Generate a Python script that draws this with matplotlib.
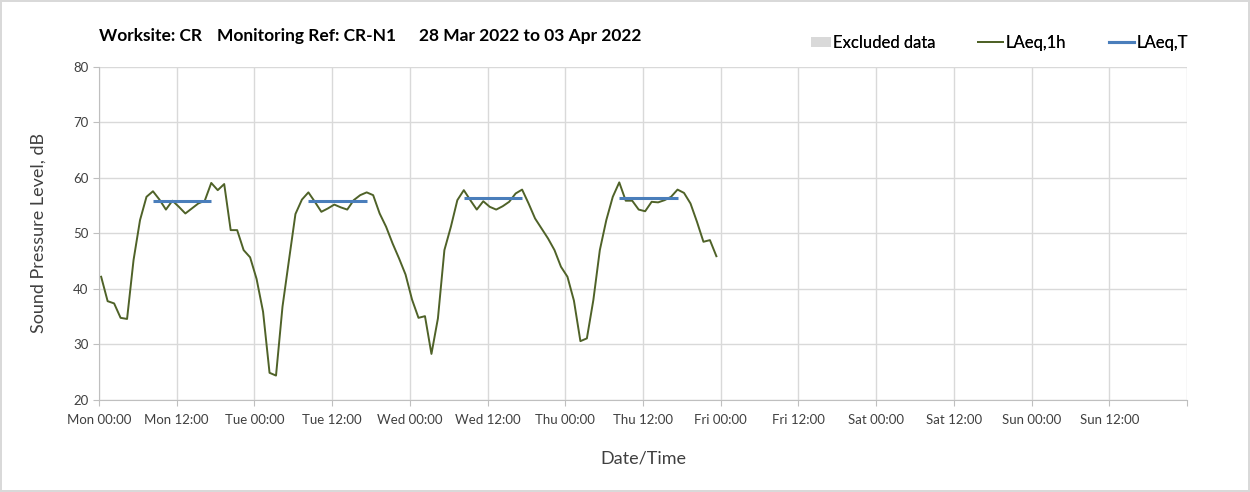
import pandas as pd
import matplotlib.pyplot as plt
import matplotlib.dates as mdates
from matplotlib.patches import Patch, Rectangle
from matplotlib.lines import Line2D
from matplotlib.legend_handler import HandlerPatch

# Hourly LAeq,1h readings, Mon 28 Mar 2022 to Thu 31 Mar 2022
times = pd.date_range('2022-03-28 00:20', periods=96, freq='h')
laeq_1h = [
    42.2, 37.8, 37.4, 34.8, 34.6, 45.2, 52.4, 56.6, 57.6, 56.1, 54.3, 55.9,
    54.8, 53.6, 54.5, 55.4, 55.9, 59.1, 57.8, 58.9, 50.6, 50.6, 47.0, 45.7,
    41.8, 35.9, 24.9, 24.4, 36.8, 45.2, 53.5, 56.1, 57.4, 55.7, 53.9, 54.5,
    55.2, 54.7, 54.3, 56.0, 56.9, 57.4, 56.9, 53.6, 51.2, 48.2, 45.5, 42.6,
    38.1, 34.8, 35.1, 28.3, 34.7, 47.0, 51.2, 56.0, 57.8, 56.0, 54.3, 55.8,
    54.8, 54.3, 54.9, 55.7, 57.2, 57.9, 55.4, 52.7, 50.9, 49.1, 47.0, 44.0,
    42.2, 37.9, 30.6, 31.1, 38.0, 47.0, 52.4, 56.6, 59.2, 55.9, 55.9, 54.3,
    54.0, 55.7, 55.6, 56.0, 56.6, 57.9, 57.3, 55.4, 52.1, 48.5, 48.8, 45.9,
]

# Daytime LAeq,T periods
laeq_t_start = pd.to_datetime(['2022-03-28 08:20', '2022-03-29 08:20',
                               '2022-03-30 08:20', '2022-03-31 08:20'])
laeq_t_end = pd.to_datetime(['2022-03-28 17:20', '2022-03-29 17:20',
                             '2022-03-30 17:20', '2022-03-31 17:20'])
laeq_t = [55.9, 55.8, 56.3, 56.4]

green = '#4f6228'
blue = '#4a7ebb'
grid_col = '#d9d9d9'
text_col = '#404040'
font = 'Lato'


def small_square(legend, orig_handle, xdescent, ydescent, width, height, fontsize):
    # excel style square marker for the area series
    return Rectangle((width - 0.8 * width - xdescent, -ydescent + 0.1 * height),
                     0.8 * width, 0.8 * height)


fig = plt.figure(figsize=(12.5, 4.92), dpi=100)
fig.patch.set_edgecolor('#d9d9d9')
fig.patch.set_linewidth(1.5)
ax = fig.add_axes([0.0792, 0.187, 0.8704, 0.677])

ax.plot(times, laeq_1h, color=green, lw=1.4)
ax.hlines(laeq_t, laeq_t_start, laeq_t_end, color=blue, lw=2.2)

ax.set_ylim(20, 80)
ax.set_xlim(pd.Timestamp('2022-03-28'), pd.Timestamp('2022-04-04'))
ax.set_yticks(range(20, 81, 10))
ax.xaxis.set_major_locator(mdates.HourLocator(byhour=[0, 12]))
ticks = ax.get_xticks()
ax.set_xticks(ticks)
ax.set_xticklabels([mdates.num2date(t).strftime('%a %H:%M') if i < len(ticks) - 1 else ''
                    for i, t in enumerate(ticks)])

ax.grid(True, color=grid_col, lw=1)
ax.set_axisbelow(True)
for side in ['top', 'right']:
    ax.spines[side].set_visible(False)
for side in ['left', 'bottom']:
    ax.spines[side].set_color('#bfbfbf')
ax.tick_params(axis='both', colors='#bfbfbf', length=4, labelcolor=text_col, labelsize=9.5)
ax.tick_params(axis='x', pad=6)
for lbl in ax.get_xticklabels() + ax.get_yticklabels():
    lbl.set_fontfamily(font)

ax.set_ylabel('Sound Pressure Level, dB', fontsize=13, color=text_col, family=font, labelpad=19)
ax.set_xlabel('Date/Time', fontsize=13, color=text_col, family=font, labelpad=18)

# title parts
fig.text(0.0792, 0.926, 'Worksite: CR', fontsize=12.5, weight='bold', family=font, va='center')
fig.text(0.1736, 0.926, 'Monitoring Ref: CR-N1', fontsize=12.5, weight='bold', family=font, va='center')
fig.text(0.3352, 0.926, '28 Mar 2022 to 03 Apr 2022', fontsize=12.5, weight='bold', family=font, va='center')

# legend entries, spaced like the spreadsheet legend
excl = Patch(facecolor='#d9d9d9', edgecolor='none')
entries = [
    (excl, 'Excluded data', 0.6444),
    (Line2D([], [], color=green, lw=1.4), 'LAeq,1h', 0.7824),
    (Line2D([], [], color=blue, lw=2.2), 'LAeq,T', 0.8872),
]
for handle, label, x0 in entries:
    leg = fig.legend([handle], [label], frameon=False, loc='center left',
                     bbox_to_anchor=(x0, 0.913), borderaxespad=0, borderpad=0,
                     handlelength=1.5, handletextpad=0.15,
                     handler_map={excl: HandlerPatch(patch_func=small_square)},
                     prop={'family': font, 'size': 12})
    fig.add_artist(leg)

fig.savefig('out.png', dpi=100)
